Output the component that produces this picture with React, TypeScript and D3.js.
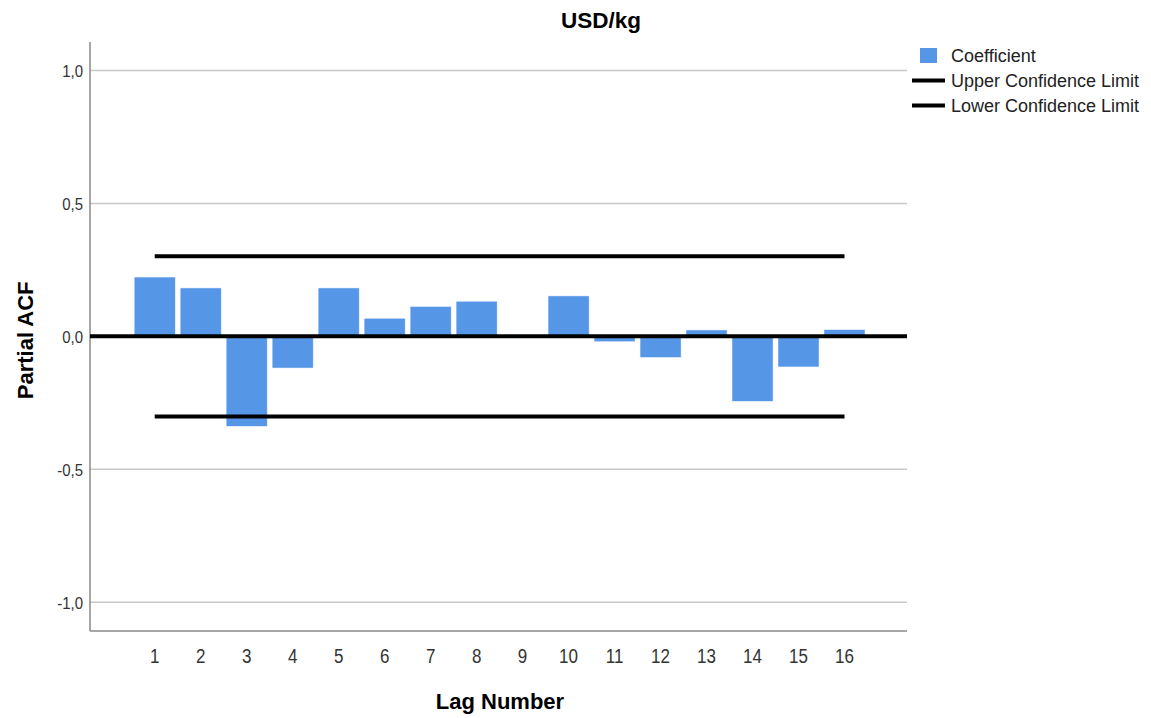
import React from "react";
import * as d3 from "d3";

const lags = [1, 2, 3, 4, 5, 6, 7, 8, 9, 10, 11, 12, 13, 14, 15, 16];
const coefficients = [0.223, 0.182, -0.338, -0.119, 0.182, 0.068, 0.112, 0.132, 0.0, 0.152, -0.02, -0.079, 0.024, -0.244, -0.115, 0.025];
const upperLimit = 0.301;
const lowerLimit = -0.301;
const yTicks = [1.0, 0.5, 0.0, -0.5, -1.0];
const legendItems = ["Coefficient", "Upper Confidence Limit", "Lower Confidence Limit"];

const W = 1151;
const H = 718;
const plotL = 90;
const plotR = 907;
const plotT = 42;
const plotB = 631;
const font = "Liberation Sans, Arial, sans-serif";

export default function App() {
  const y = d3.scaleLinear().domain([-1.108, 1.107]).range([plotB, plotT]);
  const x = d3.scalePoint<number>().domain(lags).range([154.7, 844.5]);
  const barW = 41;
  const fmt = (v: number) => d3.format(".1f")(v).replace(".", ",").replace("−", "-");
  const lineGen = d3.line<number>().x((d) => x(d)!).y(() => 0);

  return (
    <svg width={W} height={H} style={{ position: "absolute", left: 0, top: 0, background: "#fff" }} fontFamily={font}>
      <rect x={0} y={0} width={W} height={H} fill="#fff" />
      {/* gridlines */}
      {yTicks.filter((t) => t !== 0).map((t) => (
        <line key={t} x1={plotL} x2={plotR} y1={y(t)} y2={y(t)} stroke="#c8c8c8" strokeWidth={1.5} />
      ))}
      {/* axes */}
      <line x1={plotL} x2={plotL} y1={plotT} y2={plotB} stroke="#888" strokeWidth={1.5} />
      <line x1={plotL} x2={plotR} y1={plotB} y2={plotB} stroke="#888" strokeWidth={1.5} />
      {/* y tick labels */}
      {yTicks.map((t) => (
        <text key={t} transform={`translate(83,${y(t) + 7}) scale(1,1.15)`} textAnchor="end" fontSize={15} fill="#333">
          {fmt(t)}
        </text>
      ))}
      {/* bars */}
      {lags.map((l, i) => {
        const v = coefficients[i];
        const y0 = y(0);
        const y1 = y(v);
        return (
          <rect
            key={l}
            x={x(l)! - barW / 2}
            y={Math.min(y0, y1)}
            width={barW}
            height={Math.abs(y1 - y0)}
            fill="#5596e6"
            stroke="#e6f0fb"
            strokeWidth={0.5}
          />
        );
      })}
      {/* zero line */}
      <line x1={plotL} x2={plotR} y1={y(0)} y2={y(0)} stroke="#000" strokeWidth={4} />
      {/* confidence limits */}
      <path d={lineGen([lags[0], lags[lags.length - 1]])!} transform={`translate(0,${y(upperLimit)})`} stroke="#000" strokeWidth={4} fill="none" />
      <path d={lineGen([lags[0], lags[lags.length - 1]])!} transform={`translate(0,${y(lowerLimit)})`} stroke="#000" strokeWidth={4} fill="none" />
      {/* x tick labels */}
      {lags.map((l) => (
        <text key={l} transform={`translate(${x(l)!},663) scale(1,1.22)`} textAnchor="middle" fontSize={17} fill="#333">
          {l}
        </text>
      ))}
      {/* titles */}
      <text x={601} y={28} textAnchor="middle" fontSize={22.5} fontWeight="bold" fill="#000">
        USD/kg
      </text>
      <text x={500} y={709} textAnchor="middle" fontSize={22} fontWeight="bold" fill="#000">
        Lag Number
      </text>
      <text transform={`translate(33,${y(0) + 4}) rotate(-90)`} textAnchor="middle" fontSize={22} fontWeight="bold" fill="#000">
        Partial ACF
      </text>
      {/* legend */}
      <rect x={920} y={48} width={17} height={15} fill="#5596e6" />
      <line x1={912} x2={945} y1={80.5} y2={80.5} stroke="#000" strokeWidth={4} />
      <line x1={912} x2={945} y1={105.5} y2={105.5} stroke="#000" strokeWidth={4} />
      {legendItems.map((s, i) => (
        <text key={s} x={951} y={62 + i * 25} fontSize={18} fill="#222">
          {s}
        </text>
      ))}
    </svg>
  );
}
